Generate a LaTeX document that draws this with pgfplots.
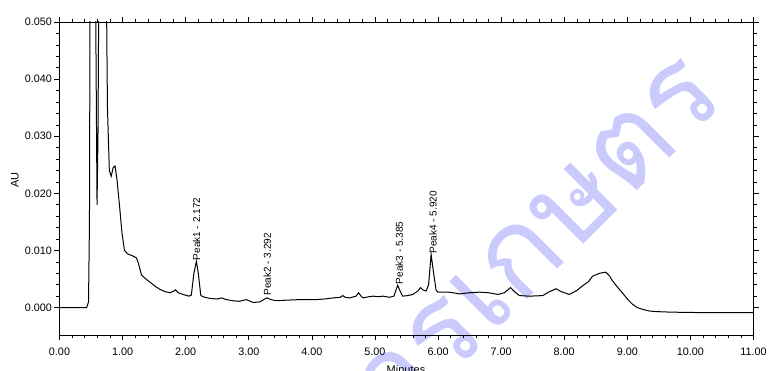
\documentclass[border=0pt]{standalone}
\usepackage{pgfplots}
\pgfplotsset{compat=1.18}
\usepackage{fontspec}
\setmainfont{Liberation Sans}
\newfontfamily\thaifont[Script=Thai]{Loma}
\definecolor{wm}{RGB}{202,202,252}
\begin{document}
\begin{tikzpicture}[x=1pt,y=1pt]
\node[rotate=45, anchor=mid east, text=wm, font=\thaifont\fontsize{120}{120}\selectfont, inner sep=0pt] at (726,272) {กรมวิชาการเกษตร};
\begin{axis}[at={(59.5pt,35pt)}, anchor=south west, scale only axis,
  width=694pt, height=313pt,
  xmin=0, xmax=11, ymin=-0.0048, ymax=0.05,
  xtick={0,1,...,11}, ytick={0,0.01,0.02,0.03,0.04,0.05},
  minor x tick num=4, minor y tick num=4,
  tick align=outside, major tick length=5pt, minor tick length=3pt,
  axis line style={line width=0.8pt}, every tick/.style={black, line width=0.6pt},
  scaled y ticks=false, scaled x ticks=false,
  /pgf/number format/assume math mode=true,
  xticklabel style={yshift=-4pt, /pgf/number format/.cd, fixed, fixed zerofill, precision=2},
  yticklabel style={xshift=1pt, /pgf/number format/.cd, fixed, fixed zerofill, precision=3},
  ticklabel style={font=\fontsize{10.8}{12}\selectfont},
  clip=true]
\addplot[black, line width=1pt] coordinates {
(0.00,0.0000) (0.43,0.0000) (0.46,0.0010) (0.475,0.0150) (0.49,0.0800) (0.55,0.0900)
(0.575,0.0500) (0.595,0.0180) (0.61,0.0300) (0.635,0.0800) (0.70,0.0900) (0.74,0.0600)
(0.76,0.0350) (0.79,0.0240) (0.82,0.0230) (0.85,0.0245) (0.88,0.0248) (0.91,0.0225)
(0.95,0.0180) (0.99,0.0131) (1.03,0.0100) (1.08,0.0094) (1.15,0.0091) (1.22,0.0087)
(1.25,0.0078) (1.30,0.0057) (1.37,0.0050) (1.44,0.0044) (1.52,0.0037) (1.59,0.0032)
(1.67,0.0028) (1.75,0.0026) (1.81,0.0029) (1.84,0.0031) (1.88,0.0026) (1.96,0.0023)
(2.05,0.0020) (2.09,0.0022) (2.13,0.0060) (2.17,0.0081) (2.20,0.0060) (2.24,0.0021)
(2.30,0.0018) (2.39,0.0016) (2.50,0.0015) (2.57,0.0017) (2.64,0.0014) (2.75,0.0012)
(2.85,0.0011) (2.96,0.0014) (3.07,0.0009) (3.18,0.0010) (3.25,0.0015) (3.29,0.0017)
(3.35,0.0014) (3.44,0.0012) (3.60,0.0013) (3.81,0.0014) (4.07,0.0014) (4.20,0.0015)
(4.34,0.0017) (4.45,0.0018) (4.49,0.0021) (4.53,0.0018) (4.60,0.0017) (4.70,0.0020)
(4.74,0.0026) (4.78,0.0020) (4.81,0.0017) (4.90,0.0019) (4.97,0.0020) (5.05,0.0019)
(5.13,0.0020) (5.23,0.0018) (5.30,0.0020) (5.36,0.0039) (5.41,0.0026) (5.44,0.0020)
(5.52,0.0021) (5.60,0.0023) (5.68,0.0029) (5.72,0.0035) (5.76,0.0031) (5.81,0.0029)
(5.85,0.0040) (5.89,0.0093) (5.93,0.0060) (5.97,0.0030) (6.00,0.0027) (6.18,0.0027)
(6.34,0.0024) (6.50,0.0026) (6.66,0.0027) (6.80,0.0026) (6.95,0.0023) (7.05,0.0026)
(7.15,0.0035) (7.22,0.0027) (7.29,0.0021) (7.45,0.0020) (7.66,0.0021) (7.75,0.0027)
(7.87,0.0033) (7.95,0.0028) (8.08,0.0023) (8.20,0.0030) (8.29,0.0038) (8.38,0.0045)
(8.45,0.0055) (8.56,0.0060) (8.66,0.0062) (8.72,0.0055) (8.77,0.0046) (8.85,0.0035)
(8.92,0.0026) (9.00,0.0015) (9.08,0.0006) (9.16,0.0000) (9.24,-0.0003) (9.35,-0.0006)
(9.45,-0.0007) (9.70,-0.0008) (10.30,-0.0009) (11.00,-0.0009)
};
\node[rotate=90, anchor=west, font=\fontsize{10}{12}\selectfont, inner sep=1pt] at (axis cs:2.172,0.0081) {Peak1 - 2.172};
\node[rotate=90, anchor=west, font=\fontsize{10}{12}\selectfont, inner sep=1pt] at (axis cs:3.292,0.0019) {Peak2 - 3.292};
\node[rotate=90, anchor=west, font=\fontsize{10}{12}\selectfont, inner sep=1pt] at (axis cs:5.385,0.0039) {Peak3 - 5.385};
\node[rotate=90, anchor=west, font=\fontsize{10}{12}\selectfont, inner sep=1pt] at (axis cs:5.920,0.0093) {Peak4 - 5.920};
\end{axis}
\node[rotate=90, font=\fontsize{11}{12}\selectfont] at (15,190) {AU};
\node[anchor=north, font=\fontsize{11}{12}\selectfont, inner sep=0pt] at (406,5) {Minutes};
\pgfresetboundingbox
\useasboundingbox (0,0) rectangle (769,370);
\end{tikzpicture}
\end{document}
